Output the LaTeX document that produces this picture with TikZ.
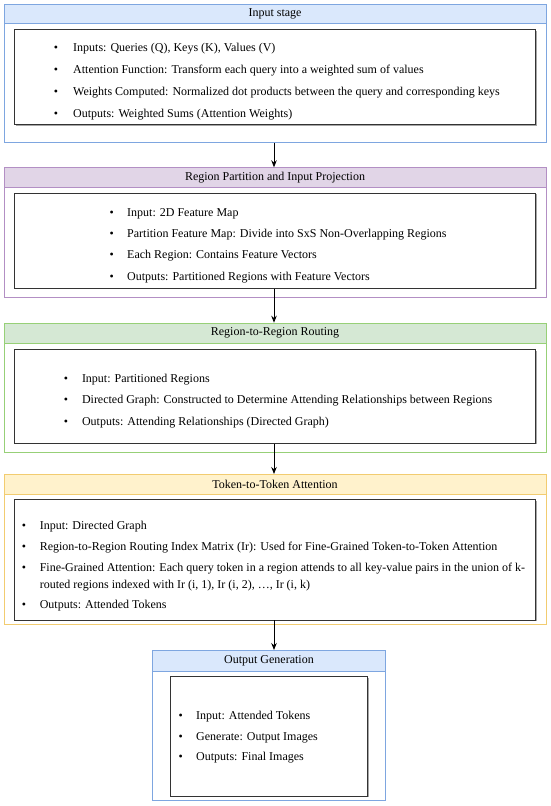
\documentclass[tikz,border=0pt]{standalone}
\usepackage{fontspec}
\setmainfont{Liberation Serif}
\usetikzlibrary{arrows.meta,shadows}
\definecolor{bluefill}{HTML}{DAE8FC}
\definecolor{bluedraw}{HTML}{7EA6E0}
\definecolor{purplefill}{HTML}{E1D5E7}
\definecolor{purpledraw}{HTML}{B38FC4}
\definecolor{greenfill}{HTML}{D5E8D4}
\definecolor{greendraw}{HTML}{97D077}
\definecolor{yellowfill}{HTML}{FFF2CC}
\definecolor{yellowdraw}{HTML}{F2CC70}
\definecolor{innerdraw}{HTML}{333333}
\begin{document}
\begin{tikzpicture}[x=1pt,y=-1pt,
  font=\fontsize{12}{14}\selectfont,
  outerbox/.style={draw=#1, line width=0.9pt, inner sep=0pt, anchor=north west},
  hdrbox/.style 2 args={draw=#1, fill=#2, line width=0.9pt, inner sep=0pt, anchor=north west},
  innerbox/.style={draw=innerdraw, fill=white, line width=0.9pt, inner sep=0pt, anchor=north west,
    drop shadow={shadow xshift=1.2pt, shadow yshift=-1.2pt, opacity=0.35, fill=black}},
  itm/.style={anchor=base west, inner sep=0pt},
  bul/.style={anchor=base, inner sep=0pt},
  arr/.style={-{Stealth[length=7pt,width=5.5pt]}, line width=0.8pt, draw=black}]
\useasboundingbox (0,0) rectangle (550,806);
\coordinate (ax) at (274,0);

% ---------- Stage 1 ----------
\node[outerbox=bluedraw, minimum width=542.2, minimum height=138.2] (o1) at (3.5,3.5) {};
\node[hdrbox={bluedraw}{bluefill}, minimum width=542.2, minimum height=19.8] (h1) at (3.5,3.5) {Input stage};
\node[innerbox, minimum width=521, minimum height=95] (i1) at (14,29.3) {};
\node[bul] (b1a) at (56,51.5) {•};
\node[itm] (t1a) at (73,51.5) {Inputs: Queries (Q), Keys (K), Values (V)};
\node[bul] (b1b) at (56,73.5) {•};
\node[itm] (t1b) at (73,73.5) {Attention Function: Transform each query into a weighted sum of values};
\node[bul] (b1c) at (56,95.5) {•};
\node[itm] (t1c) at (73,95.5) {Weights Computed: Normalized dot products between the query and corresponding keys};
\node[bul] (b1d) at (56,117) {•};
\node[itm] (t1d) at (73,117) {Outputs: Weighted Sums (Attention Weights)};

% ---------- Stage 2 ----------
\node[outerbox=purpledraw, minimum width=542.2, minimum height=129.4] (o2) at (3.5,167.3) {};
\node[hdrbox={purpledraw}{purplefill}, minimum width=542.2, minimum height=20] (h2) at (3.5,167.3) {Region Partition and Input Projection};
\node[innerbox, minimum width=521, minimum height=95] (i2) at (14,192.7) {};
\node[bul] (b2a) at (111.6,216) {•};
\node[itm] (t2a) at (127,216) {Input: 2D Feature Map};
\node[bul] (b2b) at (111.6,237.7) {•};
\node[itm] (t2b) at (127,237.7) {Partition Feature Map: Divide into SxS Non-Overlapping Regions};
\node[bul] (b2c) at (111.6,258.7) {•};
\node[itm] (t2c) at (127,258.7) {Each Region: Contains Feature Vectors};
\node[bul] (b2d) at (111.6,280.5) {•};
\node[itm] (t2d) at (127,280.5) {Outputs: Partitioned Regions with Feature Vectors};

% ---------- Stage 3 ----------
\node[outerbox=greendraw, minimum width=542.2, minimum height=129.6] (o3) at (3.5,322.7) {};
\node[hdrbox={greendraw}{greenfill}, minimum width=542.2, minimum height=20] (h3) at (3.5,322.7) {Region-to-Region Routing};
\node[innerbox, minimum width=521, minimum height=93.7] (i3) at (14,349) {};
\node[bul] (b3a) at (66,382.2) {•};
\node[itm] (t3a) at (81.8,382.2) {Input: Partitioned Regions};
\node[bul] (b3b) at (66,403.2) {•};
\node[itm] (t3b) at (81.8,403.2) {Directed Graph: Constructed to Determine Attending Relationships between Regions};
\node[bul] (b3c) at (66,425) {•};
\node[itm] (t3c) at (81.8,425) {Outputs: Attending Relationships (Directed Graph)};

% ---------- Stage 4 ----------
\node[outerbox=yellowdraw, minimum width=542.2, minimum height=150] (o4) at (3.5,474) {};
\node[hdrbox={yellowdraw}{yellowfill}, minimum width=542.2, minimum height=20] (h4) at (3.5,474) {Token-to-Token Attention};
\node[innerbox, minimum width=521, minimum height=120.2] (i4) at (14,499.3) {};
\node[bul] (b4a) at (23.9,529) {•};
\node[itm] (t4a) at (39.6,529) {Input: Directed Graph};
\node[bul] (b4b) at (23.9,550) {•};
\node[itm] (t4b) at (39.6,550) {Region-to-Region Routing Index Matrix (Ir): Used for Fine-Grained Token-to-Token Attention};
\node[bul] (b4c) at (23.9,571) {•};
\node[itm] (t4c) at (39.6,571) {Fine-Grained Attention: Each query token in a region attends to all key-value pairs in the union of k-};
\node[itm] (t4d) at (39.6,588) {routed regions indexed with Ir (i, 1), Ir (i, 2), …, Ir (i, k)};
\node[bul] (b4e) at (23.9,608) {•};
\node[itm] (t4e) at (39.6,608) {Outputs: Attended Tokens};

% ---------- Stage 5 ----------
\node[outerbox=bluedraw, minimum width=232.4, minimum height=149.5] (o5) at (152.3,650) {};
\node[hdrbox={bluedraw}{bluefill}, minimum width=232.4, minimum height=20.5] (h5) at (152.3,650) {Output Generation};
\node[innerbox, minimum width=197.3, minimum height=119.5] (i5) at (170,676) {};
\node[bul] (b5a) at (180.7,719.7) {•};
\node[itm] (t5a) at (196,719.7) {Input: Attended Tokens};
\node[bul] (b5b) at (180.7,740.7) {•};
\node[itm] (t5b) at (196,740.7) {Generate: Output Images};
\node[bul] (b5c) at (180.7,760.7) {•};
\node[itm] (t5c) at (196,760.7) {Outputs: Final Images};

% ---------- Arrows ----------
\draw[arr] (o1.south -| ax) -- (h2.north -| ax);
\draw[arr] (i2.south -| ax) -- (h3.north -| ax);
\draw[arr] (i3.south -| ax) -- (h4.north -| ax);
\draw[arr] (i4.south -| ax) -- (h5.north -| ax);
\end{tikzpicture}
\end{document}
